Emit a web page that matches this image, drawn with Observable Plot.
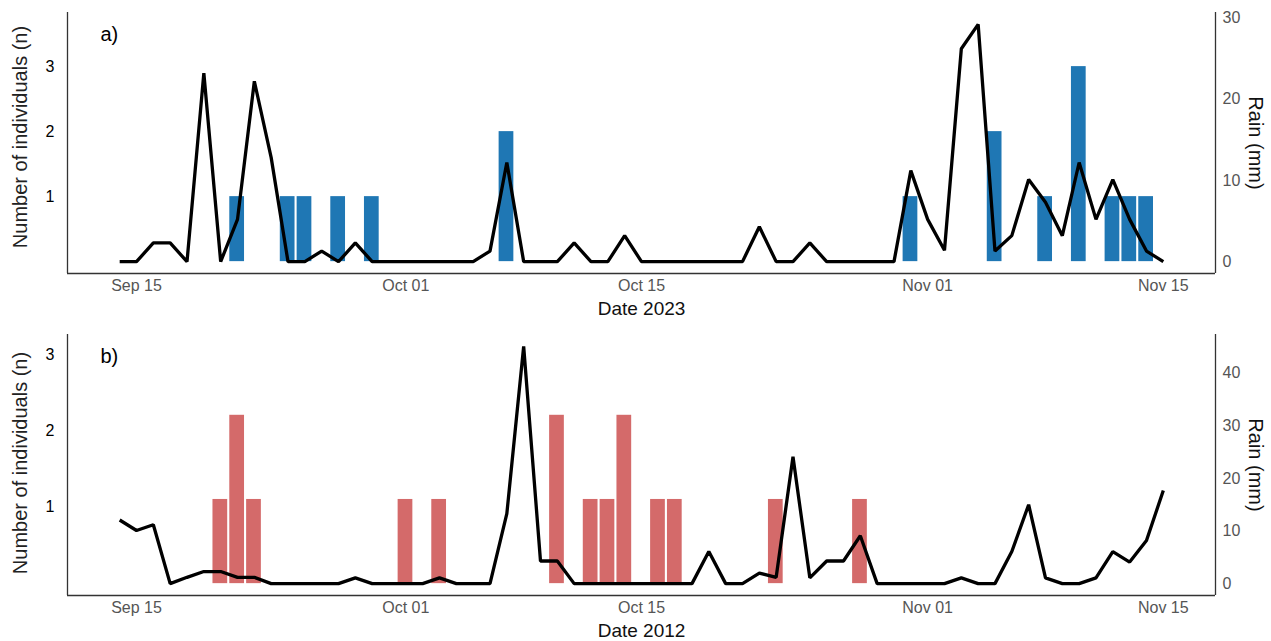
<!DOCTYPE html>
<html>
<head>
<meta charset="utf-8">
<script src="https://cdn.jsdelivr.net/npm/d3@7"></script>
<script src="https://cdn.jsdelivr.net/npm/@observablehq/plot@0.6"></script>
<style>
  html, body { margin: 0; padding: 0; background: white; }
  #chart svg { display: block; }
</style>
</head>
<body>
<div id="chart"></div>
<script>
// ---- Data ----
// Daily rain (mm), Sep 14 .. Nov 15
const rain2023 = [
  0, 0, 2.3, 2.3, 0, 23.2, 0, 5.2, 22.2, 12.8, 0, 0, 1.3, 0, 2.3, 0, 0,
  0, 0, 0, 0, 0, 1.3, 12.2, 0, 0, 0, 2.3, 0, 0, 3.2, 0, 0, 0, 0, 0, 0, 0, 4.3, 0, 0, 2.3, 0, 0, 0, 0, 0, 11.2,
  5.2, 1.4, 26.2, 29.2, 1.3, 3.2, 10.1, 7.3, 3.2, 12.2, 5.2, 10.1, 5.2, 1.3, 0
];
const rain2012 = [
  12.1, 10.1, 11.2, 0, 1.2, 2.3, 2.3, 1.2, 1.2, 0, 0, 0, 0, 0, 1.1, 0, 0,
  0, 0, 1.1, 0, 0, 0, 13.3, 45.1, 4.3, 4.3, 0, 0, 0, 0, 0, 0, 0, 0, 6.1, 0, 0, 2.0, 1.2, 24.1, 1.1, 4.3, 4.3, 9.1, 0, 0, 0,
  0, 0, 1.1, 0, 0, 6.1, 15.0, 1.1, 0, 0, 1.1, 6.1, 4.1, 8.2, 17.7
];
// Number of individuals per day
const count2023Dates = ["2023-09-21","2023-09-24","2023-09-25","2023-09-27","2023-09-29","2023-10-07",
  "2023-10-31","2023-11-05","2023-11-08","2023-11-10","2023-11-12","2023-11-13","2023-11-14"];
const count2023Values = [1, 1, 1, 1, 1, 2, 1, 2, 1, 3, 1, 1, 1];
const count2012Dates = ["2012-09-20","2012-09-21","2012-09-22","2012-10-01","2012-10-03","2012-10-10",
  "2012-10-12","2012-10-13","2012-10-14","2012-10-16","2012-10-17","2012-10-23","2012-10-28"];
const count2012Values = [1, 2, 1, 1, 1, 2, 1, 1, 2, 1, 1, 1, 1];
const dateTickLabels = ["09-15", "10-01", "10-15", "11-01", "11-15"];
const countTickLabels = [1, 2, 3];
const rainTicks2023 = [0, 10, 20, 30];
const rainTicks2012 = [0, 10, 20, 30, 40];

// ---- Drawing ----
const parse = d3.utcParse("%Y-%m-%d");
const FONT = "'Liberation Sans', Arial, Helvetica, sans-serif";

function panel(o) {
  const first = parse(o.year + "-09-14");
  const last = parse(o.year + "-11-15");
  const dates = d3.utcDay.range(first, d3.utcDay.offset(last, 1));
  const rainData = dates.map((d, i) => ({date: d, rain: o.rain[i]}));
  const bars = o.barDates.map((s, i) => {
    const d = parse(s);
    return {x1: d3.utcHour.offset(d, -10.6), x2: d3.utcHour.offset(d, 10.6), y: o.barCounts[i] * o.barScale};
  });
  const span = (last - first) * 0.05;
  const xDomain = [new Date(+first - span), new Date(+last + span)];
  const maxRain = d3.max(o.rain);
  const yDomain = [-0.05 * maxRain, 1.05 * maxRain];
  const xTicks = dateTickLabels.map(s => parse(o.year + "-" + s));
  return Plot.plot({
    width: 1271,
    height: o.height,
    marginLeft: 67,
    marginRight: 56,
    marginTop: o.marginTop,
    marginBottom: o.marginBottom,
    x: {type: "utc", domain: xDomain},
    y: {domain: yDomain},
    style: {fontFamily: FONT, background: "white"},
    marks: [
      Plot.rectY(bars, {x1: "x1", x2: "x2", y1: 0, y2: "y", fill: o.color}),
      Plot.line(rainData, {x: "date", y: "rain", stroke: "black", strokeWidth: 3.3, strokeLinejoin: "miter", strokeLinecap: "butt"}),
      Plot.ruleX(xDomain, {stroke: "#333", strokeWidth: 1.3}),
      Plot.ruleY([yDomain[0]], {stroke: "#333", strokeWidth: 1.3}),
      Plot.axisX({ticks: xTicks, tickFormat: d3.utcFormat("%b %d"), tickSize: 0, tickPadding: 6,
        fontSize: 16, fill: "#555", label: null}),
      Plot.axisY({anchor: "right", ticks: o.rainTicks, tickSize: 0, tickPadding: 7,
        fontSize: 16, fill: "#555", label: null}),
      Plot.axisY({anchor: "left", ticks: countTickLabels.map(n => n * o.labelScale),
        tickFormat: d => String(Math.round(d / o.labelScale)), tickSize: 0, tickPadding: 13,
        fontSize: 16, fill: "black", label: null}),
      Plot.text([o.xTitle], {frameAnchor: "bottom", dy: 41, fontSize: 19, fill: "#111"}),
      Plot.text(["Rain (mm)"], {frameAnchor: "right", textAnchor: "middle", rotate: 90, dx: 40, fontSize: 20, fill: "#111"}),
      Plot.text(["Number of individuals (n)"], {frameAnchor: "left", textAnchor: "middle", rotate: -90, dx: -47, dy: o.yLabelShift, fontSize: 20, fill: "#222"}),
      Plot.text([o.tag], {frameAnchor: "top-left", dx: 33, dy: 14, fontSize: 20, textAnchor: "start", fill: "black"})
    ]
  });
}

const chart = document.getElementById("chart");
chart.append(panel({
  year: 2023, rain: rain2023, barDates: count2023Dates, barCounts: count2023Values,
  barScale: 8, labelScale: 8, color: "#1f77b4", tag: "a)", xTitle: "Date 2023",
  rainTicks: rainTicks2023, height: 320, marginTop: 12, marginBottom: 47, yLabelShift: -6
}));
chart.append(panel({
  year: 2012, rain: rain2012, barDates: count2012Dates, barCounts: count2012Values,
  barScale: 16, labelScale: 14.5, color: "#d46a6a", tag: "b)", xTitle: "Date 2012",
  rainTicks: rainTicks2012, height: 321, marginTop: 14, marginBottom: 46, yLabelShift: -2
}));
</script>
</body>
</html>
